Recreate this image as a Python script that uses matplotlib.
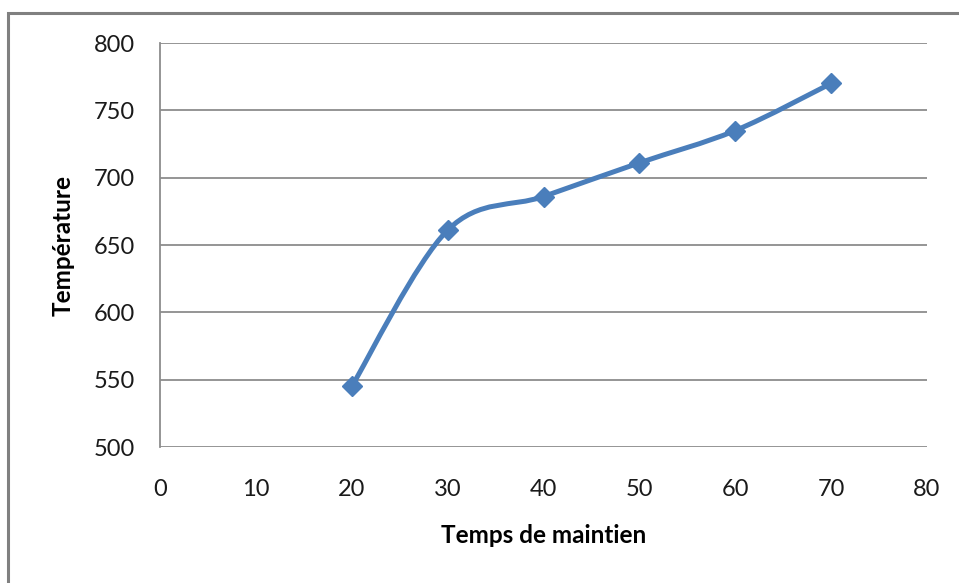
import matplotlib.pyplot as plt
from matplotlib.path import Path
from matplotlib.patches import PathPatch, Rectangle

# Data
temps = [20, 30, 40, 50, 60, 70]
temperature = [545, 661, 686, 711, 735, 770]

x_ticks = [0, 10, 20, 30, 40, 50, 60, 70, 80]
y_ticks = [500, 550, 600, 650, 700, 750, 800]

blue = '#4a7ebb'
plt.rcParams['font.family'] = ['Lato', 'DejaVu Sans']

fig = plt.figure(figsize=(9.59, 5.83), dpi=100)
ax = fig.add_axes([160 / 959, 1 - 447 / 583, 767 / 959, 404 / 583])

# Smoothed line (Excel style bezier through the points)
verts = [(temps[0], temperature[0])]
codes = [Path.MOVETO]
n = len(temps)
for i in range(n - 1):
    p0 = (temps[max(i - 1, 0)], temperature[max(i - 1, 0)])
    p1 = (temps[i], temperature[i])
    p2 = (temps[i + 1], temperature[i + 1])
    p3 = (temps[min(i + 2, n - 1)], temperature[min(i + 2, n - 1)])
    c1 = (p1[0] + (p2[0] - p0[0]) / 6, p1[1] + (p2[1] - p0[1]) / 6)
    c2 = (p2[0] - (p3[0] - p1[0]) / 6, p2[1] - (p3[1] - p1[1]) / 6)
    verts += [c1, c2, p2]
    codes += [Path.CURVE4] * 3
ax.add_patch(PathPatch(Path(verts, codes), facecolor='none', edgecolor=blue,
                       lw=3.6, capstyle='round', joinstyle='round', zorder=3))
ax.plot(temps, temperature, linestyle='none', marker='D', markersize=10,
        color=blue, zorder=4)

ax.set_xlim(0, 80)
ax.set_ylim(500, 800)
ax.set_xticks(x_ticks)
ax.set_yticks(y_ticks)

# Horizontal grid only
ax.grid(True, axis='y', color='#8c8c8c', lw=1.3)
ax.set_axisbelow(True)
for side in ['top', 'right', 'bottom']:
    ax.spines[side].set_visible(False)
ax.spines['left'].set_color('#8c8c8c')
ax.spines['left'].set_linewidth(1.3)

ax.tick_params(axis='both', length=0, labelsize=17, colors='#1a1a1a')
ax.tick_params(axis='y', pad=18)
ax.tick_params(axis='x', pad=23)

ax.set_xlabel('Temps de maintien', fontsize=17.5, fontweight='bold', labelpad=17)
ax.set_ylabel('Température', fontsize=17.5, fontweight='bold', labelpad=14)

# Outer chart border
fig.patches.append(Rectangle((8 / 959, -0.1), 1.2, 1 - 13 / 583 + 0.1,
                             transform=fig.transFigure, fill=False,
                             edgecolor='#808080', lw=2.2))

fig.savefig('out.png', dpi=100)
